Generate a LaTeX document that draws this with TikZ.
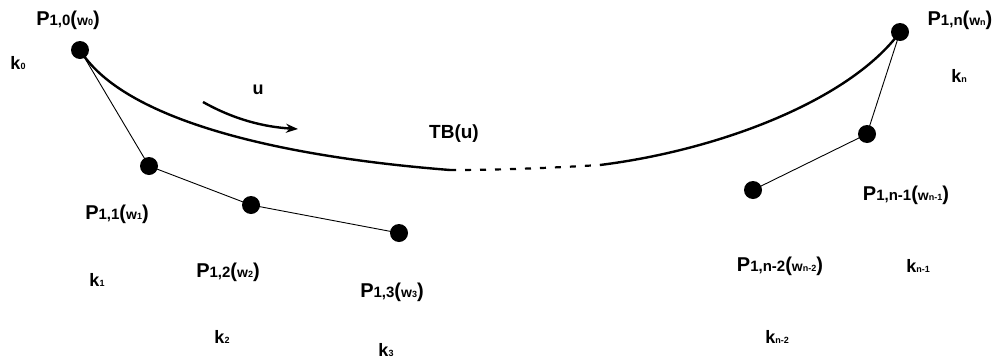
\documentclass[tikz,border=0pt]{standalone}
\usepackage{fontspec}
\setmainfont{Liberation Sans}
\usetikzlibrary{arrows.meta}
\newcommand{\fs}[1]{\fontsize{#1}{#1}\selectfont}
\newcommand{\Plab}[2]{{\fs{20}P}{\fs{15}#1}{\fs{20}(}{\fs{14}w}{\fs{9}#2}{\fs{20})}}
\newcommand{\Klab}[1]{{\fs{18}k}{\fs{9}#1}}
\begin{document}
\begin{tikzpicture}[x=1pt,y=-1pt,
  dot/.style={circle,fill=black,inner sep=0pt,minimum width=17pt,minimum height=18pt},
  lbl/.style={font=\bfseries,inner sep=0pt,anchor=center},
  poly/.style={line width=0.9pt},
  curve/.style={line width=2.4pt}]
\useasboundingbox (0,0) rectangle (1003,362);
\fill[white] (0,0) rectangle (1003,362);
% control points
\node[dot] (p0) at (80,50) {};
\node[dot] (p1) at (149,166) {};
\node[dot] (p2) at (251,205) {};
\node[dot] (p3) at (399,233) {};
\node[dot] (pn2) at (753,190) {};
\node[dot] (pn1) at (867,134) {};
\node[dot] (pn) at (900,32) {};
% control polygon
\draw[poly] (p0.center) -- (p1.center) -- (p2.center) -- (p3.center);
\draw[poly] (pn2.center) -- (pn1.center) -- (pn.center);
% curve
\coordinate (c1) at (450,170);
\coordinate (c2) at (600,165);
\draw[curve] (p0.center) .. controls (120,115) and (260,155) .. (c1);
\draw[line width=2.2pt,dash pattern=on 6pt off 9pt] (c1) .. controls (500,170) and (550,168) .. (c2);
\draw[curve] (c2) .. controls (720,150) and (850,100) .. (pn.center);
% direction arrow
\coordinate (a1) at (203,102);
\coordinate (a2) at (298,129);
\draw[line width=2.4pt,-{Stealth[length=12pt,width=9pt]}] (a1) .. controls (235,120) and (265,127) .. (a2);
% labels
\node[lbl] (u) at (258,90) {\fs{18}u};
\node[lbl] (tb) at (454,134) {\fs{19}TB(u)};
\node[lbl] (l0) at (68,20) {\Plab{1,0}{0}};
\node[lbl] (k0) at (18,63) {\Klab{0}};
\node[lbl] (l1) at (117,214) {\Plab{1,1}{1}};
\node[lbl] (k1) at (97,280) {\Klab{1}};
\node[lbl] (l2) at (228,272) {\Plab{1,2}{2}};
\node[lbl] (k2) at (222,337) {\Klab{2}};
\node[lbl] (l3) at (392,292) {\Plab{1,3}{3}};
\node[lbl] (k3) at (386,350) {\Klab{3}};
\node[lbl] (ln2) at (780,266) {\Plab{1,n-2}{n-2}};
\node[lbl] (kn2) at (777,337) {\Klab{n-2}};
\node[lbl] (ln1) at (906,195) {\Plab{1,n-1}{n-1}};
\node[lbl] (kn1) at (918,266) {\Klab{n-1}};
\node[lbl] (ln) at (960,20) {\Plab{1,n}{n}};
\node[lbl] (kn) at (959,76) {\Klab{n}};
\end{tikzpicture}
\end{document}
